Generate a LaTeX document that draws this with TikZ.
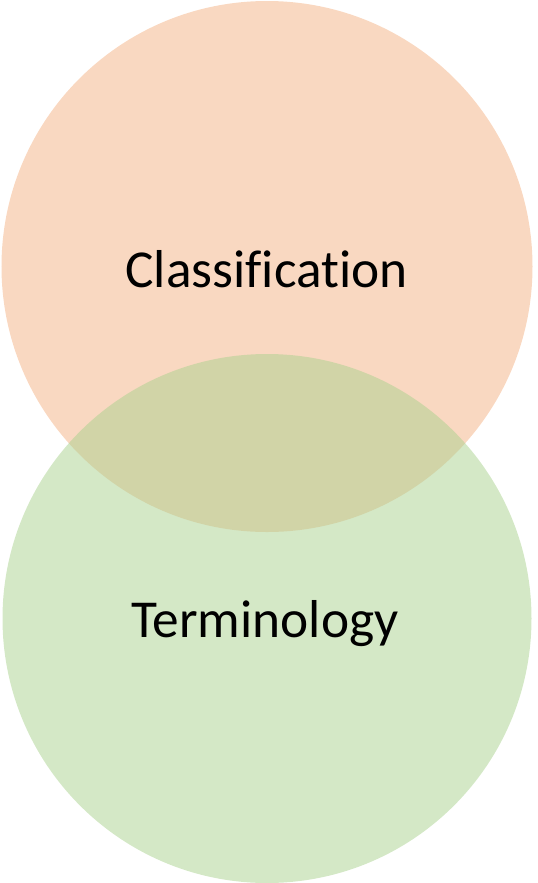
\documentclass[tikz,border=0pt]{standalone}
\usepackage{fontspec}
\setmainfont{Carlito}[Ligatures=NoCommon]
\definecolor{peach}{HTML}{F4B183}
\definecolor{leaf}{HTML}{A9D18E}
\begin{document}
\begin{tikzpicture}[x=0.75pt,y=-0.75pt,
  venn/.style={fill opacity=0.5, draw=none},
  lbl/.style={anchor=base, font=\fontsize{40}{48}\selectfont, text=black, inner sep=0pt}]
\useasboundingbox (0,0) rectangle (538,883);
\fill[venn, fill=peach] (267,266.5) circle[radius=265.5];
\fill[venn, fill=leaf] (267,618.5) circle[radius=264.5];
\node[lbl] (cls) at (266.5,287) {Classification};
\node[lbl] (ter) at (265,637) {Terminology};
\end{tikzpicture}
\end{document}
